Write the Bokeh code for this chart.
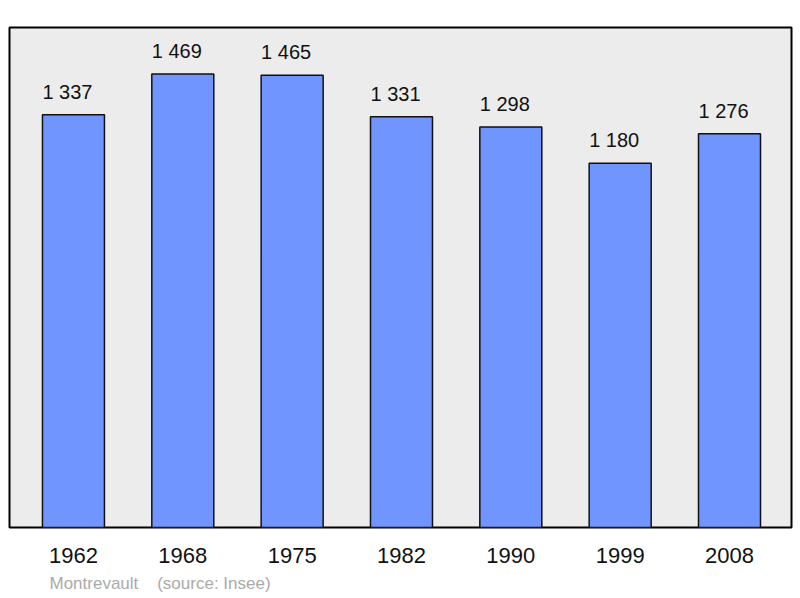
from bokeh.plotting import figure
from bokeh.models import Range1d, ColumnDataSource, FixedTicker, Title
from bokeh.core.properties import value
from bokeh.embed import file_html
from bokeh.resources import INLINE

years = ["1962", "1968", "1975", "1982", "1990", "1999", "2008"]
population = [1337, 1469, 1465, 1331, 1298, 1180, 1276]
value_labels = ["1 337", "1 469", "1 465", "1 331", "1 298", "1 180", "1 276"]
source_note = "Montrevault\u00a0\u00a0\u00a0\u00a0(source: Insee)"

xs = list(range(len(years)))
src = ColumnDataSource(dict(x=xs, top=population, lab=value_labels))

p = figure(width=800, height=598, output_backend="svg", toolbar_location=None,
           x_range=Range1d(-0.585, 6.567), y_range=Range1d(0, 1620),
           min_border_left=9, min_border_right=9, min_border_top=27, min_border_bottom=70)

p.background_fill_color = "#ececec"
p.border_fill_color = "white"
p.outline_line_color = "black"
p.outline_line_width = 2
p.grid.visible = False
p.yaxis.visible = False

p.vbar(x="x", top="top", bottom=0, width=0.567, source=src,
       fill_color="#7095ff", line_color="#111111", line_width=1.5)

p.text(x="x", y="top", text="lab", source=src, text_align="center",
       text_baseline="alphabetic", y_offset=-23, x_offset=-6,
       text_font=value("Liberation Sans"), text_font_size="20px", text_color="#111111")

ax = p.xaxis[0]
ax.ticker = FixedTicker(ticks=xs)
ax.major_label_overrides = {i: y for i, y in zip(xs, years)}
ax.axis_line_color = None
ax.major_tick_line_color = None
ax.minor_tick_line_color = None
ax.major_tick_out = 0
ax.major_tick_in = 0
ax.major_label_standoff = 20
ax.major_label_text_font = "Liberation Sans"
ax.major_label_text_font_size = "22px"
ax.major_label_text_color = "#111111"

t = Title(text=source_note, align="left", offset=40, text_font="Liberation Sans",
          text_font_size="17px", text_font_style="normal", text_color="#aaaaaa", standoff=12)
p.add_layout(t, "below")

open("out.html", "w").write(file_html(p, INLINE))
